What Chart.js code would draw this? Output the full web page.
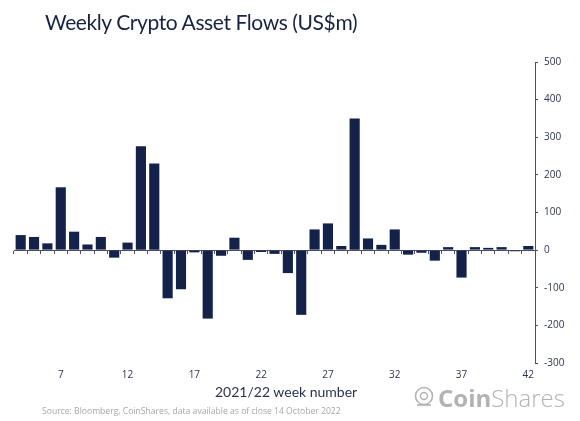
<!DOCTYPE html>
<html>
<head>
<meta charset="utf-8">
<script src="https://cdn.jsdelivr.net/npm/chart.js@4"></script>
<style>
  html, body { margin: 0; padding: 0; background: #fff; }
  #wrap { position: relative; width: 580px; height: 421px; overflow: hidden; }
  #chart { position: absolute; left: 0; top: 0; }
  .title { position: absolute; left: 45px; top: 9px; font: 400 21px "Lato", sans-serif; color: #172341; letter-spacing: -0.4px; white-space: nowrap; }
  .xtitle { position: absolute; left: 215px; top: 383px; font: 400 14px "Lato", sans-serif; color: #2b3150; white-space: nowrap; }
  .source { position: absolute; left: 42px; top: 405px; font: 400 8.6px "Open Sans", sans-serif; color: #a7a7a7; white-space: nowrap; }
  .logo { position: absolute; left: 413px; top: 383px; height: 28px; display: flex; align-items: center; color: #b3b3b3; font-family: "Open Sans", sans-serif; font-size: 24px; white-space: nowrap; }
  .logo b { font-weight: 700; }
  .logo span { font-weight: 300; }
</style>
</head>
<body>
<div id="wrap">
  <canvas id="chart" width="580" height="421"></canvas>
  <div class="title">Weekly Crypto Asset Flows (US$m)</div>
  <div class="xtitle">2021/22 week number</div>
  <div class="source">Source: Bloomberg, CoinShares, data available as of close 14 October 2022</div>
  <div class="logo">
    <svg width="22" height="22" viewBox="0 0 22 22" style="margin-right:3px">
      <circle cx="11" cy="10" r="8.5" fill="none" stroke="#b3b3b3" stroke-width="1.6"/>
      <circle cx="11" cy="10" r="3.5" fill="none" stroke="#b3b3b3" stroke-width="1.4"/>
      <path d="M4 19 L18 19" stroke="#b3b3b3" stroke-width="1.6"/>
    </svg>
    <b>Coin</b><span>Shares</span>
  </div>
</div>
<script>
// week numbers on the x axis
const weeks = [4, 5, 6, 7, 8, 9, 10, 11, 12, 13, 14, 15, 16, 17, 18, 19, 20, 21, 22, 23,
               24, 25, 26, 27, 28, 29, 30, 31, 32, 33, 34, 35, 36, 37, 38, 39, 40, 41, 42];

// weekly flows, US$m
const flows = [40, 35, 18, 167, 49, 15, 35, -20, 20, 276, 230, -128, -104, -6, -182, -15, 33, -26, -5, -10,
               -61, -172, 55, 71, 11, 350, 31, 14, 55, -12, -7, -28, 8, -73, 8, 6, 8, -3, 11];

// labelled weeks
const weekLabels = [7, 12, 17, 22, 27, 32, 37, 42];

const yTicks = [-300, -200, -100, 0, 100, 200, 300, 400, 500];

const navy = '#14224a';
const axisGrey = '#4b5068';
const tickText = '#2d3450';

const ctx = document.getElementById('chart').getContext('2d');
new Chart(ctx, {
    type: 'bar',
    data: {
        labels: weeks,
        datasets: [{
            data: flows,
            backgroundColor: navy,
            borderWidth: 0,
            categoryPercentage: 1,
            barPercentage: 0.76
        }]
    },
    options: {
        responsive: false,
        animation: false,
        layout: {
            padding: { left: 14, right: 0, top: 62, bottom: 38 }
        },
        plugins: {
            legend: { display: false },
            tooltip: { enabled: false }
        },
        scales: {
            x: {
                position: 'bottom',
                offset: true,
                grid: { display: false, drawTicks: false },
                border: { display: false },
                ticks: {
                    autoSkip: false,
                    maxRotation: 0,
                    padding: 6,
                    color: tickText,
                    font: { family: 'Open Sans', size: 10 },
                    callback: (v, i) => weekLabels.includes(weeks[i]) ? weeks[i] : ''
                },
                afterFit: s => { s.height = 20; }
            },
            x2: {
                position: { y: 0 },
                offset: true,
                grid: {
                    offset: true,
                    drawOnChartArea: false,
                    drawTicks: true,
                    tickLength: 3,
                    color: axisGrey,
                    lineWidth: 1
                },
                border: { display: true, color: axisGrey, width: 1 },
                ticks: { display: false, autoSkip: false }
            },
            y: {
                position: 'right',
                min: -300,
                max: 500,
                afterBuildTicks: s => { s.ticks = yTicks.map(v => ({ value: v })); },
                grid: {
                    drawOnChartArea: false,
                    drawTicks: true,
                    tickLength: 3,
                    color: axisGrey
                },
                border: { display: true, color: axisGrey, width: 1 },
                ticks: {
                    padding: 6,
                    color: tickText,
                    font: { family: 'Open Sans', size: 10 }
                },
                afterFit: s => { s.width = 45; }
            }
        }
    }
});
</script>
</body>
</html>
